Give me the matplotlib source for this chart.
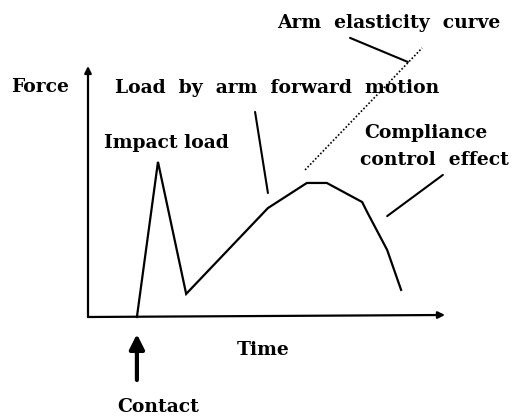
import matplotlib
matplotlib.use("Agg")
import matplotlib.pyplot as plt

# force-time curve (time and force in arbitrary units, 0-100)
time = [13.7, 19.6, 27.5, 50.4, 61.3, 66.9, 76.8, 78.2, 83.8, 87.7]
force = [0, 61.8, 9.2, 43.4, 53.4, 53.4, 45.8, 41.8, 26.7, 10.8]

# dotted arm elasticity curve
elastic_time = [60.8, 93.6]
elastic_force = [58.6, 107.2]

contact_time = 13.7

plt.rcParams['font.family'] = ['DejaVu Serif']

fig = plt.figure(figsize=(5.21, 4.19), dpi=100)
ax = fig.add_axes([88 / 521, 102 / 419, 357 / 521, 251 / 419])
ax.set_xlim(0, 100)
ax.set_ylim(0, 100)
ax.axis('off')

# axes with arrows
arrow = dict(arrowstyle='-|>', color='black', lw=1.6, mutation_scale=10, shrinkA=0, shrinkB=0)
ax.annotate('', xy=(0, 100), xytext=(0, 0), arrowprops=arrow, annotation_clip=False)
ax.annotate('', xy=(100, 0.8), xytext=(0, 0), arrowprops=arrow, annotation_clip=False)

ax.plot(time, force, color='black', lw=1.6, clip_on=False, solid_joinstyle='miter')
ax.plot(elastic_time, elastic_force, color='black', lw=1.2, ls=(0, (1, 1.2)), clip_on=False)

# leader lines
lead = dict(arrowstyle='-', color='black', lw=1.5, shrinkA=0, shrinkB=0)
ax.annotate('', xy=(89.6, 101.6), xytext=(73.4, 111.2), arrowprops=lead, annotation_clip=False)
ax.annotate('', xy=(50.4, 49.4), xytext=(46.8, 81.7), arrowprops=lead, annotation_clip=False)
ax.annotate('', xy=(83.8, 40.2), xytext=(99.4, 56.6), arrowprops=lead, annotation_clip=False)

# contact arrow
ax.annotate('', xy=(contact_time, -6.8), xytext=(contact_time, -25.1),
            arrowprops=dict(arrowstyle='-|>', color='black', lw=3, mutation_scale=22,
                            shrinkA=0, shrinkB=0),
            annotation_clip=False)

kw = dict(fontsize=13.5, fontweight='semibold', va='center', clip_on=False)
ax.text(84.3, 117.1, 'Arm  elasticity  curve', ha='center', **kw)
ax.text(-13.4, 91.6, 'Force', ha='center', **kw)
ax.text(52.9, 91.2, 'Load  by  arm  forward  motion', ha='center', **kw)
ax.text(22.1, 69.3, 'Impact load', ha='center', **kw)
ax.text(77.3, 73.3, 'Compliance', ha='left', **kw)
ax.text(76.2, 62.5, 'control  effect', ha='left', **kw)
ax.text(49, -13.1, 'Time', ha='center', **kw)
ax.text(19.6, -35.9, 'Contact', ha='center', **kw)

fig.savefig('out.png', dpi=100)
